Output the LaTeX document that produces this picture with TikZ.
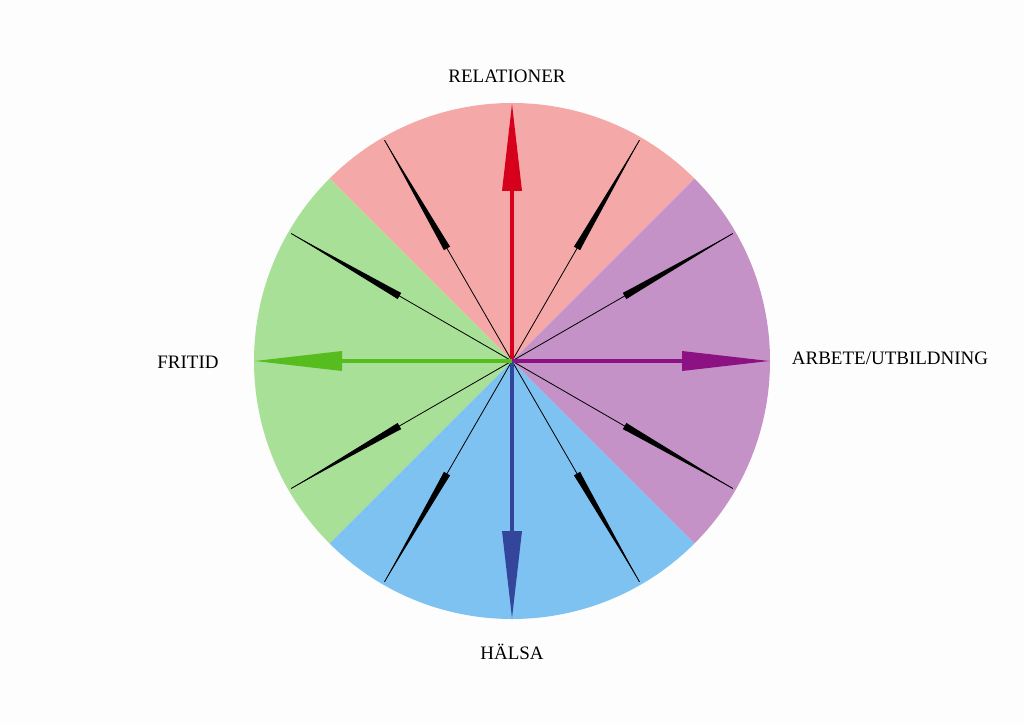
\documentclass[tikz,border=0pt]{standalone}
\usepackage{fontspec}
\setmainfont{Liberation Serif}
\usetikzlibrary{calc}
\definecolor{secpink}{HTML}{F4A9A8}
\definecolor{secpurple}{HTML}{C492C6}
\definecolor{secblue}{HTML}{7EC2F1}
\definecolor{secgreen}{HTML}{A9E097}
\definecolor{arrred}{HTML}{D6001C}
\definecolor{arrpurple}{HTML}{8C1183}
\definecolor{arrblue}{HTML}{34459C}
\definecolor{arrgreen}{HTML}{57BC1E}
\definecolor{bgcol}{HTML}{FDFDFD}
\tikzset{
  lbl/.style={font=\fontsize{19}{22}\selectfont, inner sep=0pt},
  thinline/.style={draw=black, line width=0.8pt},
  shaft/.style={line width=3.5pt},
}
\begin{document}
\begin{tikzpicture}[x=1pt,y=1pt]
\fill[bgcol] (0,0) rectangle (1024,724);
\useasboundingbox (0,0) rectangle (1024,724);
\coordinate (c) at (512,363);
% sectors
\fill[secpink] (c) -- ++(45:258) arc[start angle=45,end angle=135,radius=258] -- cycle;
\fill[secgreen] (c) -- ++(135:258) arc[start angle=135,end angle=225,radius=258] -- cycle;
\fill[secblue] (c) -- ++(225:258) arc[start angle=225,end angle=315,radius=258] -- cycle;
\fill[secpurple] (c) -- ++(-45:258) arc[start angle=-45,end angle=45,radius=258] -- cycle;
% needles
\foreach \a in {30,60,120,150,210,240,300,330}{
  \coordinate (n\a) at ($(c)+(\a:255)$);
  \draw[thinline] (c) -- (n\a);
  \begin{scope}[shift={(c)},rotate=\a]
    \fill[black] (130,3.6) -- (140,3.2) -- (255,0) -- (140,-3.2) -- (130,-3.6) -- cycle;
  \end{scope}
}
% main arrows
\foreach \a/\col in {90/arrred,0/arrpurple,270/arrblue,180/arrgreen}{
  \coordinate (s\a) at ($(c)+(\a:172)$);
  \draw[shaft,\col] (c) -- (s\a);
  \begin{scope}[shift={(c)},rotate=\a]
    \fill[\col] (170,10) -- (257,0) -- (170,-10) -- cycle;
  \end{scope}
}
% labels
\node[lbl] (rel) at (507,648) {RELATIONER};
\node[lbl] (arb) at (890,366) {ARBETE/UTBILDNING};
\node[lbl] (fri) at (188,362) {FRITID};
\node[lbl] (hal) at (512,72) {HÄLSA};
\end{tikzpicture}
\end{document}
